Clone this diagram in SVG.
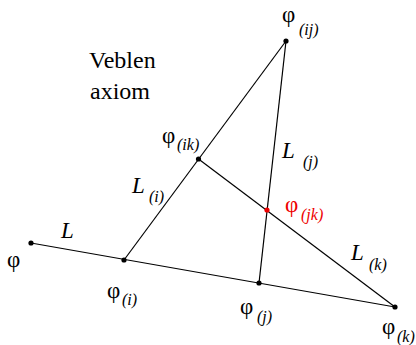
<svg xmlns="http://www.w3.org/2000/svg" width="416" height="345" viewBox="0 0 416 345">
<style>
.ln{stroke:#000;stroke-width:1.2;fill:none}
.pt{fill:#000}
text{font-family:"Liberation Serif","Times New Roman",serif;fill:#000}
.phi{font-size:23px}
.L{font-size:23px;font-style:italic}
.sub{font-size:16px;font-style:italic}
.red{fill:#e00}
.title{font-size:24px}
</style>
<rect width="416" height="345" fill="#fff"/>
<g id="connectors">
<line class="ln" x1="31" y1="243" x2="395" y2="307"/>
<line class="ln" x1="124" y1="260" x2="286" y2="41"/>
<line class="ln" x1="286" y1="41" x2="259" y2="283"/>
<line class="ln" x1="198.5" y1="159" x2="395" y2="307"/>
</g>
<g id="title"><text class="title" x="89" y="68">Veblen</text><text class="title" x="90" y="99">axiom</text></g>
<g id="p"><circle class="pt" cx="31" cy="243" r="2.6"/><text class="phi" x="7" y="267">φ</text><text class="L" x="61" y="238">L</text></g>
<g id="pi"><circle class="pt" cx="124" cy="260" r="2.6"/><text class="phi" x="107" y="298">φ</text><text class="sub" x="122" y="305">(i)</text></g>
<g id="pj"><circle class="pt" cx="259" cy="283" r="2.6"/><text class="phi" x="240" y="314">φ</text><text class="sub" x="257" y="322">(j)</text></g>
<g id="pk"><circle class="pt" cx="395" cy="307" r="2.6"/><text class="phi" x="382" y="334">φ</text><text class="sub" x="397" y="342">(k)</text></g>
<g id="pij"><circle class="pt" cx="286" cy="41" r="2.6"/><text class="phi" x="282" y="22">φ</text><text class="sub" x="299" y="35">(ij)</text></g>
<g id="pik"><circle class="pt" cx="198.5" cy="159" r="2.6"/><text class="phi" x="162" y="143">φ</text><text class="sub" x="177" y="150">(ik)</text></g>
<g id="pjk"><circle cx="267" cy="210" r="2.6" fill="#e00"/><text class="phi red" x="285" y="212">φ</text><text class="sub red" x="301" y="220">(jk)</text></g>
<g id="Li"><text class="L" x="132" y="193">L</text><text class="sub" x="149" y="202">(i)</text></g>
<g id="Lj"><text class="L" x="282" y="158">L</text><text class="sub" x="303" y="167">(j)</text></g>
<g id="Lk"><text class="L" x="351" y="260">L</text><text class="sub" x="369" y="270">(k)</text></g>
</svg>
